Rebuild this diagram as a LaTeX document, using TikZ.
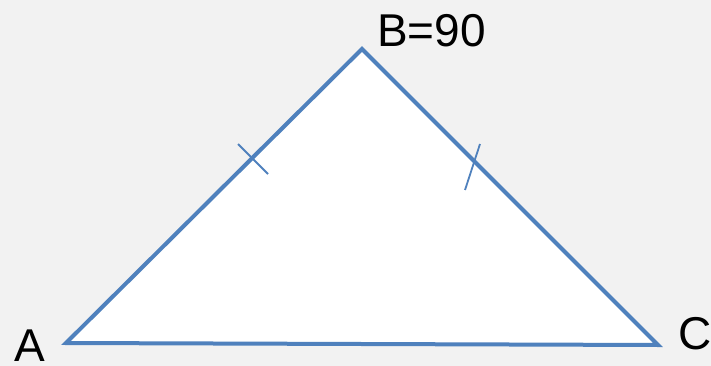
\documentclass[tikz,border=0pt]{standalone}
\usepackage{fontspec}
\setmainfont{Liberation Sans}
\usetikzlibrary{calc}
\definecolor{Paper}{HTML}{F2F2F2}
\definecolor{Edge}{HTML}{4F81BD}

\begin{document}
\begin{tikzpicture}[x=1pt, y=-1pt,
          side/.style={draw=Edge, fill=white, line width=4pt, line join=miter},
          tick/.style={draw=Edge, line width=1.8pt},
          vlabel/.style={font=\fontsize{46}{46}\selectfont, inner sep=0pt, anchor=base west}
        ]
          \fill[Paper] (0,0) rectangle (711,366);
          \useasboundingbox (0,0) rectangle (711,366);
          \coordinate (A) at (66,343);
          \coordinate (B) at (362,49);
          \coordinate (C) at (658,345);
          \path[side] (A) -- (B) -- (C) -- cycle;
          \node[vlabel] (la) at (14,361) {A};
          \node[vlabel] (lb) at (377,47) {B=90};
          \node[vlabel] (lc) at (678,349) {C};
          % equal-side marks
          \coordinate (t1a) at (238,144); \coordinate (t1b) at (268,174);
          \coordinate (t2a) at (480,144); \coordinate (t2b) at (465,190);
          \draw[tick] (t1a) -- (t1b);
          \draw[tick] (t2a) -- (t2b);
        \end{tikzpicture}
\end{document}
